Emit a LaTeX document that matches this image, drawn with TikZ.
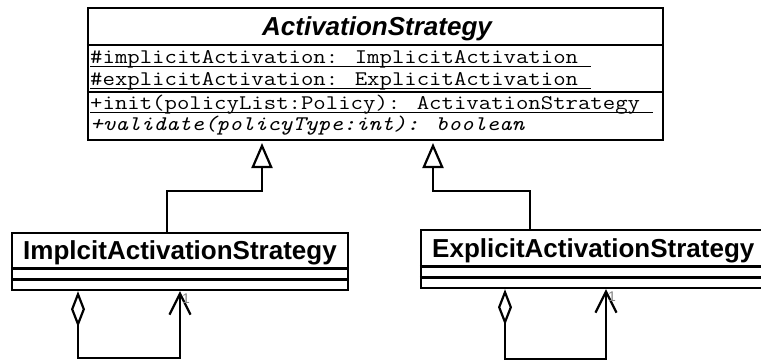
\documentclass[tikz,border=0pt]{standalone}
\usepackage{fontspec}
\setmainfont{Liberation Sans}
\newfontfamily\titlefont{Liberation Sans}
\usetikzlibrary{arrows.meta}
\newcommand{\wid}[1]{\scalebox{1.158}[1]{#1}}
\newcommand{\myul}[1]{\setbox0\hbox{\wid{#1}}\rlap{\rule[-4.4pt]{\wd0}{1.3pt}}\box0}
\begin{document}
\begin{tikzpicture}[x=1pt,y=-1pt,
  classbox/.style={draw,line width=2.4pt,rectangle,inner sep=0pt},
  sep/.style={line width=2.4pt},
  member/.style={inner sep=0pt,anchor=base west,font=\ttfamily\fontsize{20.8}{22}\selectfont},
  ctitle/.style={inner sep=0pt,anchor=base,font=\titlefont\bfseries\fontsize{26}{28}\selectfont},
  gen/.style={line width=2.2pt,-{Triangle[open,length=25pt,width=21pt,line width=2.2pt]}},
  assoc/.style={line width=2.2pt,{Diamond[open,length=36pt,width=14pt,line width=2.2pt]}-{Straight Barb[length=21pt,width=21pt,line width=2.2pt]}},
  lbl/.style={inner sep=0pt,text=gray,font=\fontsize{14}{14}\selectfont}]
\useasboundingbox (0,0) rectangle (761,360);
\clip (0,0) rectangle (761,360);

% top abstract class
\node[classbox,minimum width=575pt,minimum height=132pt] (as) at (375.5,74) {};
\draw[sep] (as.west |- 0,45) -- (as.east |- 0,45);
\draw[sep] (as.west |- 0,92) -- (as.east |- 0,92);
\node[ctitle] (ast) at (377,35) {\itshape ActivationStrategy};
\node[member] (m1) at (90,63) {\myul{\#implicitActivation: ImplicitActivation\ }};
\node[member] (m2) at (90,85) {\myul{\#explicitActivation: ExplicitActivation\ }};
\node[member] (m3) at (90,109) {\myul{+init(policyList:Policy): ActivationStrategy\ }};
\node[member] (m4) at (90,130) {\wid{\itshape +validate(policyType:int): boolean}};

% left class
\node[classbox,minimum width=336pt,minimum height=57pt] (ls) at (180,261.5) {};
\draw[sep] (ls.west |- 0,268.5) -- (ls.east |- 0,268.5);
\draw[sep] (ls.west |- 0,279.5) -- (ls.east |- 0,279.5);
\node[ctitle] (lst) at (180,259.5) {ImplcitActivationStrategy};

% right class
\node[classbox,minimum width=359pt,minimum height=58pt] (rs) at (600.5,259) {};
\draw[sep] (rs.west |- 0,266.5) -- (rs.east |- 0,266.5);
\draw[sep] (rs.west |- 0,277.5) -- (rs.east |- 0,277.5);
\node[ctitle,anchor=base west] (rst) at (432,257.5) {ExplicitActivationStrategy};

% generalizations
\coordinate (gl) at (262,143);
\coordinate (gr) at (433,143);
\draw[gen] (ls.north -| 167,0) |- (262,191) -- (gl);
\draw[gen] (rs.north -| 530,0) |- (433,191) -- (gr);

% self associations
\draw[assoc] (ls.south -| 78,0) |- (180,358) -- (ls.south -| 180,0);
\node[lbl] (l1) at (186,299) {1};
\draw[assoc] (rs.south -| 505,0) |- (606,359) -- (rs.south -| 606,0);
\node[lbl] (l2) at (612,297) {1};
\end{tikzpicture}
\end{document}
